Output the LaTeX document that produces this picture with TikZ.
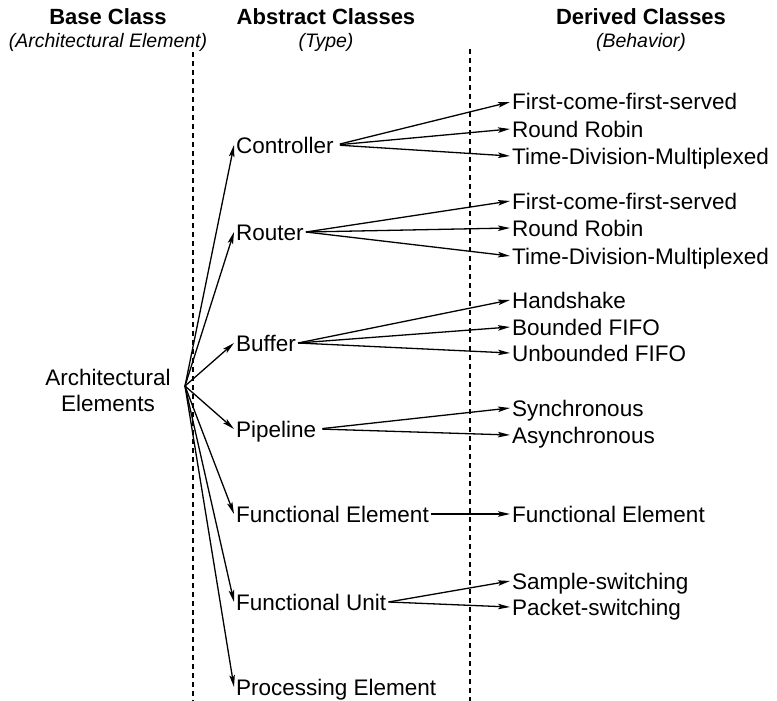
\documentclass[tikz,border=0pt]{standalone}
\usepackage{fontspec}
\setmainfont{Liberation Sans}
\usetikzlibrary{arrows.meta}
\begin{document}
\begin{tikzpicture}[x=1pt,y=-1pt,
  lbl/.style={inner sep=2pt, font=\fontsize{22.5}{26}\selectfont,
              text height=16pt, text depth=0pt, anchor=west},
  hdr/.style={inner sep=0pt, font=\fontsize{22}{26}\selectfont\bfseries},
  sub/.style={inner sep=0pt, font=\fontsize{19.5}{23}\selectfont\itshape},
  link/.style={line width=1.3pt, -{Stealth[length=12pt,width=5.5pt,inset=2.5pt]}},
  divider/.style={line width=1.2pt, dash pattern=on 5pt off 4pt}]
\useasboundingbox (0,0) rectangle (777,701);

% column headings
\node[hdr] (h1) at (108,17) {Base Class};
\node[sub] (s1) at (108,42) {(Architectural Element)};
\node[hdr] (h2) at (326,17) {Abstract Classes};
\node[sub] (s2) at (326,42) {(Type)};
\node[hdr] (h3) at (641,17) {Derived Classes};
\node[sub] (s3) at (641,42) {(Behavior)};

% column dividers
\draw[divider] (193,52) -- (193,701);
\draw[divider] (470,49) -- (470,701);

% base class
\node[align=center, inner sep=0pt, font=\fontsize{22.5}{26}\selectfont] (ae) at (108,390) {Architectural\\Elements};
\coordinate (fan) at (185,386);

% abstract classes
\node[lbl] (ctrl) at (234,145) {Controller};
\node[lbl] (rout) at (234,232) {Router};
\node[lbl] (buf)  at (234,343) {Buffer};
\node[lbl] (pipe) at (234,429) {Pipeline};
\node[lbl] (fe)   at (234,514) {Functional Element};
\node[lbl] (fu)   at (234,602) {Functional Unit};
\node[lbl] (pe)   at (234,687) {Processing Element};

% derived classes
\node[lbl] (c1) at (510,102) {First-come-first-served};
\node[lbl] (c2) at (510,129) {Round Robin};
\node[lbl] (c3) at (510,156) {Time-Division-Multiplexed};
\node[lbl] (r1) at (510,201) {First-come-first-served};
\node[lbl] (r2) at (510,228) {Round Robin};
\node[lbl] (r3) at (510,256) {Time-Division-Multiplexed};
\node[lbl] (b1) at (510,300) {Handshake};
\node[lbl] (b2) at (510,327) {Bounded FIFO};
\node[lbl] (b3) at (510,353) {Unbounded FIFO};
\node[lbl] (p1) at (510,408) {Synchronous};
\node[lbl] (p2) at (510,435) {Asynchronous};
\node[lbl] (f1) at (510,514) {Functional Element};
\node[lbl] (u1) at (510,581) {Sample-switching};
\node[lbl] (u2) at (510,607) {Packet-switching};

% base -> abstract
\foreach \t in {ctrl,rout,buf,pipe,fe,fu,pe}
  \draw[link] (fan) -- (\t.west);

% abstract -> derived
\foreach \t in {c1,c2,c3} \draw[link, shorten <=4pt] (ctrl.east) -- (\t.west);
\foreach \t in {r1,r2,r3} \draw[link] (rout.east) -- (\t.west);
\foreach \t in {b1,b2,b3} \draw[link] (buf.east) -- (\t.west);
\foreach \t in {p1,p2} \draw[link, shorten <=4pt] (pipe.east) -- (\t.west);
\draw[link] (fe.east) -- (f1.west);
\foreach \t in {u1,u2} \draw[link] (fu.east) -- (\t.west);
\end{tikzpicture}
\end{document}
